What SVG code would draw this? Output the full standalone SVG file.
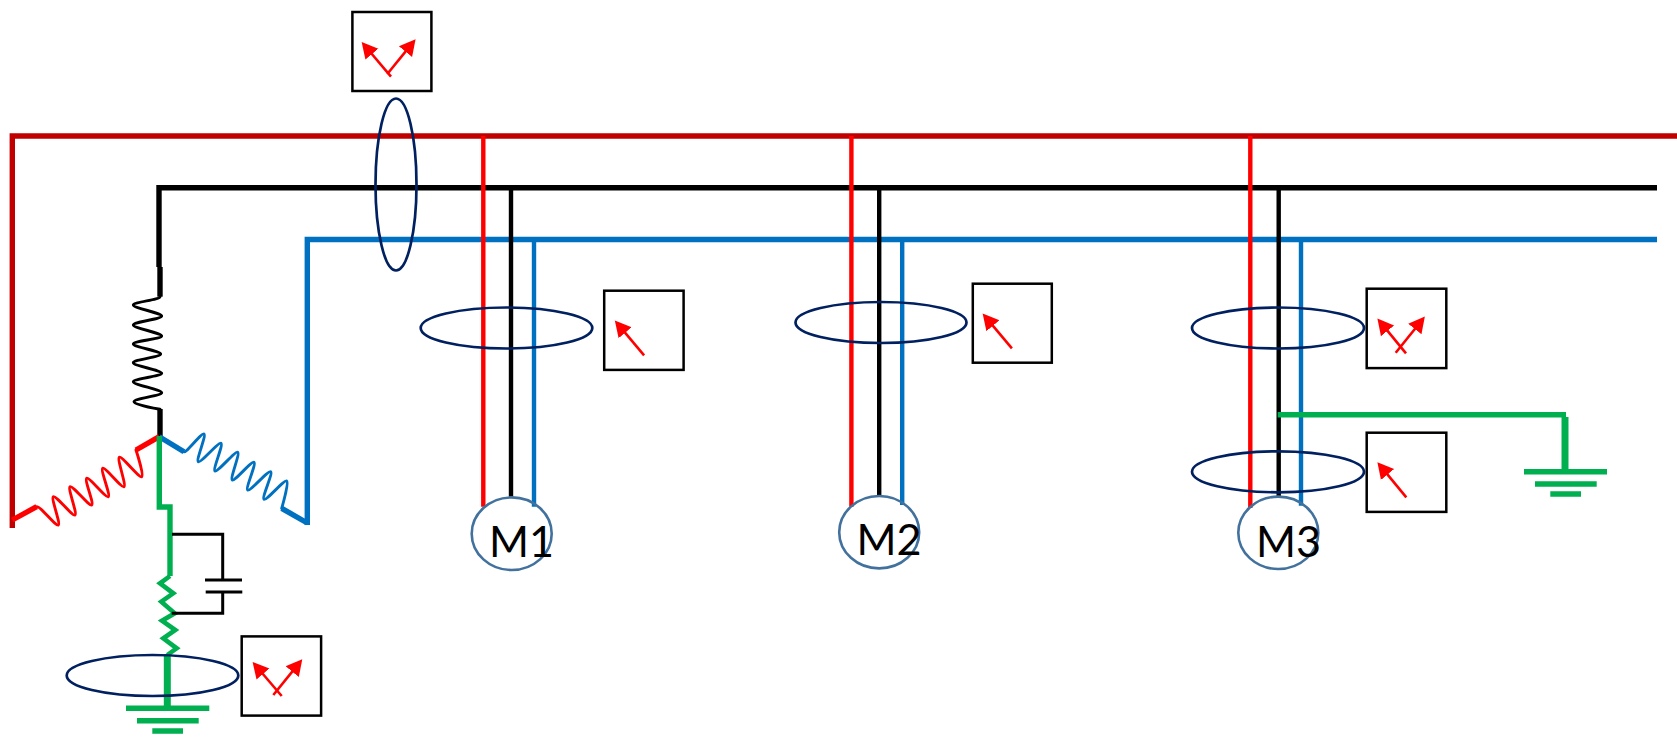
<svg xmlns="http://www.w3.org/2000/svg" width="1677" height="742" viewBox="0 0 1677 742">
<defs>
<marker id="head" markerUnits="userSpaceOnUse" markerWidth="20" markerHeight="20" viewBox="0 -10 20 20" refX="10" refY="0" orient="auto"><path d="M0,-8.5 L16,0 L0,8.5 Z" fill="#FF0000"/></marker>
</defs>
<style>
.w{fill:none;stroke-linejoin:miter}
.dr{stroke:#C00000}.r{stroke:#FF0000}.k{stroke:#000}.b{stroke:#0070C0}.g{stroke:#00B050}
.bus{stroke-width:5.4}.drop{stroke-width:4.4}.coil{stroke-width:2.9;stroke-linejoin:round;stroke-linecap:round}.thick{stroke-width:5.4}
.ct{fill:none;stroke:#002060;stroke-width:2.7}
.box{fill:#fff;stroke:#000;stroke-width:2.5}
.needle{fill:none;stroke:#FF0000;stroke-width:2.6;marker-end:url(#head)}
.motor{fill:none;stroke:#41719C;stroke-width:2.6}
.lbl{font-family:Lato,"Open Sans","Liberation Sans",sans-serif;font-size:42px;fill:#000}
</style>
<rect width="1677" height="742" fill="#fff"/>
<g id="connectors" class="w">
<path class="w dr bus" d="M12.3,528 V136 H1677"/>
<path class="w k bus" d="M159,267 V187.7 H1657"/>
<path class="w b bus" d="M307.3,525 V239.5 H1657"/>
<path class="w k thick" d="M160,267 V296.7"/>
<path class="w k coil" d="M160,296.7 C160,299.7 133.3,302 133.3,305 S161.7,313 161.7,316 S133.3,322 133.3,325 S161.7,333 161.7,336 S133.3,341 133.3,344 S160.7,351 160.7,354 S133.3,359.7 133.3,362.7 S161.7,370.3 161.7,373.3 S133.3,378.7 133.3,381.7 S161.7,389.7 161.7,392.7 S134,398.7 134,401.7 S160,409.3 160,409.3"/>
<path class="w k thick" d="M160,409 V436"/>
<path class="w r thick" d="M12.3,520 L36.7,506.7"/>
<path class="w r coil" d="M36.7,506.7 C39.2,505.2 55.8,526.5 58.3,525 S50.8,498.2 53.3,496.7 S72.5,516.5 75,515 S67.5,488.2 70,486.7 S89.2,506.5 91.7,505 S84.2,479.8 86.7,478.3 S105.8,498.2 108.3,496.7 S100.2,469.8 102.7,468.3 S121.5,488.2 124,486.7 S116.8,458.8 119.3,457.3 S139.2,478.2 141.7,476.7 S136,450 136,450"/>
<path class="w r thick" d="M136,450 L159.3,436.7"/>
<path class="w b thick" d="M159.3,436.7 L184,451.7"/>
<path class="w b coil" d="M184,451.7 C186.5,453.2 201.5,432.5 204,434 S195.8,460.2 198.3,461.7 S218.5,441.8 221,443.3 S212.5,469.5 215,471 S235.2,450.8 237.7,452.3 S229.8,478.5 232.3,480 S251.5,460.8 254,462.3 S245.2,488.5 247.7,490 S268.2,470.2 270.7,471.7 S261.5,497.8 264,499.3 S284.2,479.5 286.7,481 S281.7,508.3 281.7,508.3"/>
<path class="w b thick" d="M281.7,508.3 L307.3,523"/>
<path class="w g thick" d="M159.3,436 V507 H170 V576"/>
<path class="w g" stroke-width="4.6" d="M170,576 L160,583.3 L173.3,593.3 L161.3,601.7 L174.7,613.3 L162,620.7 L175.3,630 L163.3,638.3 L176.7,648.3 L167.3,655"/>
<path class="w g" stroke-width="7" d="M167.3,654 V708"/>
<path class="w k" stroke-width="3" d="M172,534.3 H222.7 V580 M222.7,592 V613.3 H171.7 M205,580 H242 M205.7,592 H242.3"/>
<path class="w g thick" d="M126,708.3 H209.3 M137,720.7 H198.7 M152.3,731 H183"/>

<path class="w b drop" d="M534,239 V506.7"/>
<path class="w k drop" d="M511,188 V496.7"/>
<path class="w r drop" d="M483.3,136 V506.7"/>
<path class="w b drop" d="M902.2,239 V505"/>
<path class="w k drop" d="M879.2,185 V495"/>
<path class="w r drop" d="M851.4,136 V506.7"/>
<path class="w b drop" d="M1301,239 V505.7"/>
<path class="w k drop" d="M1278.7,188 V496.7"/>
<path class="w r drop" d="M1250.3,136 V508"/>
<path class="w g thick" d="M1277.7,414.7 H1566"/>
<path class="w g" stroke-width="7" d="M1565,417 V472"/>
<path class="w g thick" d="M1524,471.7 H1607 M1535,484 H1596.7 M1550.3,494 H1581"/>
</g>

<g id="ct-neutral"><ellipse class="ct" cx="152.5" cy="675.5" rx="85.8" ry="20.5"/></g>
<g id="ct-bus"><ellipse class="ct" cx="396" cy="184.5" rx="20.5" ry="86"/></g>
<g id="ct-m1"><ellipse class="ct" cx="506.5" cy="328" rx="85.8" ry="20.5"/></g>
<g id="ct-m2"><ellipse class="ct" cx="881" cy="322.5" rx="85.5" ry="20.5"/></g>
<g id="ct-m3-upper"><ellipse class="ct" cx="1278" cy="328" rx="86" ry="20.5"/></g>
<g id="ct-m3-lower"><ellipse class="ct" cx="1278" cy="471.8" rx="86" ry="20.5"/></g>

<g id="meter-neutral">
<rect class="box" x="241.7" y="636.4" width="79.4" height="79.2"/>
<path class="needle" d="M281.7,696 L256.5,666.5"/>
<path class="needle" d="M273.3,695 L298.5,663.9"/>
</g>
<g id="meter-bus">
<rect class="box" x="352.4" y="12" width="79" height="79"/>
<path class="needle" d="M391,76.7 L365.5,46.5"/>
<path class="needle" d="M387.3,74 L411.8,43.9"/>
</g>
<g id="meter-m1">
<rect class="box" x="604.2" y="290.7" width="79.4" height="79.2"/>
<path class="needle" d="M644.1,355.3 L618.7,325.1"/>
</g>
<g id="meter-m2">
<rect class="box" x="972.8" y="283.7" width="79" height="79"/>
<path class="needle" d="M1011.9,348.3 L986.5,318.1"/>
</g>
<g id="meter-m3-upper">
<rect class="box" x="1366.7" y="288.7" width="79.6" height="79.4"/>
<path class="needle" d="M1406,353.3 L1381.2,323.1"/>
<path class="needle" d="M1395.7,352.7 L1421.1,321.2"/>
</g>
<g id="meter-m3-lower">
<rect class="box" x="1366.7" y="432.7" width="79.6" height="79.2"/>
<path class="needle" d="M1406.3,497.3 L1381.2,466.8"/>
</g>

<g id="motor-m1"><ellipse class="motor" cx="511.7" cy="533.7" rx="40" ry="36.3"/><text class="lbl" x="489" y="557" textLength="65" lengthAdjust="spacingAndGlyphs">M1</text></g>
<g id="motor-m2"><ellipse class="motor" cx="879.2" cy="532.2" rx="40" ry="36.2"/><text class="lbl" x="856.5" y="555.3" textLength="65" lengthAdjust="spacingAndGlyphs">M2</text></g>
<g id="motor-m3"><ellipse class="motor" cx="1278.3" cy="532.8" rx="40" ry="36.2"/><text class="lbl" x="1256" y="556.7" textLength="65" lengthAdjust="spacingAndGlyphs">M3</text></g>
</svg>
